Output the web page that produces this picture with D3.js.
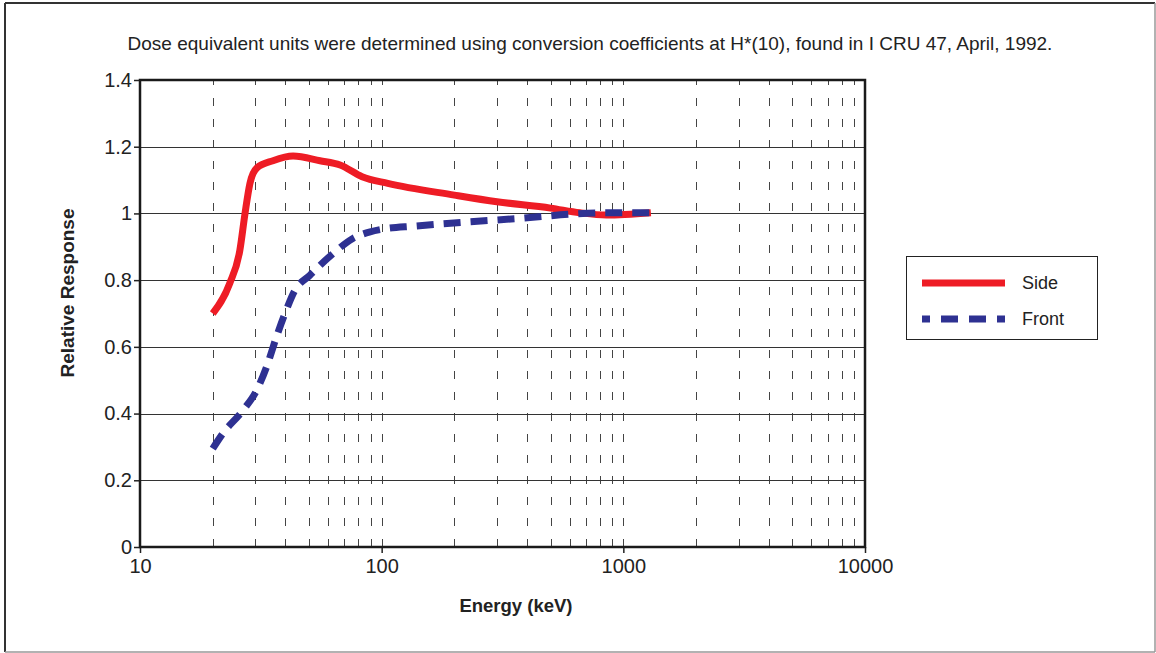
<!DOCTYPE html>
<html>
<head>
<meta charset="utf-8">
<script src="https://cdn.jsdelivr.net/npm/d3@7"></script>
<style>
  html, body { margin: 0; padding: 0; background: #fff; }
  svg { display: block; font-family: "Liberation Sans", Arial, sans-serif; }
</style>
</head>
<body>
<div id="chart"></div>
<script>
// Dados
const sideEnergy   = [20, 23.5, 25.9, 27.2, 28.5, 30.4, 35.5, 43, 55.6, 67.3, 83, 106, 200, 300, 500, 660, 850, 1300];
const sideResponse = [0.70, 0.79, 0.89, 1.00, 1.09, 1.136, 1.158, 1.172, 1.158, 1.145, 1.11, 1.09, 1.055, 1.035, 1.016, 1.002, 0.995, 1.002];

const frontEnergy   = [20, 22, 26.7, 30.4, 33.4, 36.7, 39.8, 43.8, 50.5, 63, 76, 89.6, 101, 137, 232, 373, 617, 881, 1300];
const frontResponse = [0.295, 0.34, 0.41, 0.47, 0.54, 0.63, 0.70, 0.77, 0.815, 0.88, 0.925, 0.945, 0.953, 0.962, 0.975, 0.985, 0.998, 1.002, 1.002];

const xTickValues = [10, 100, 1000, 10000];
const yTickValues = [0, 0.2, 0.4, 0.6, 0.8, 1, 1.2, 1.4];
const seriesNames = ['Side', 'Front'];
const titleText = 'Dose equivalent units were determined using conversion coefficients at H*(10), found in I CRU 47, April, 1992.';

// Dimensões
const W = 1156, H = 653;
const margin = { left: 140, top: 80, right: 291, bottom: 106 };
const width = W - margin.left - margin.right;
const height = H - margin.top - margin.bottom;

const svg = d3.select('#chart').append('svg')
  .attr('width', W)
  .attr('height', H);

// Moldura exterior
svg.append('line').attr('x1', 5).attr('y1', 3).attr('x2', 5).attr('y2', 652)
  .attr('stroke', '#333').attr('stroke-width', 2);
svg.append('line').attr('x1', 5).attr('y1', 3).attr('x2', 1155).attr('y2', 3)
  .attr('stroke', '#333').attr('stroke-width', 2);
svg.append('line').attr('x1', 1155).attr('y1', 3).attr('x2', 1155).attr('y2', 652)
  .attr('stroke', '#999').attr('stroke-width', 1.5);
svg.append('line').attr('x1', 5).attr('y1', 652).attr('x2', 1155).attr('y2', 652)
  .attr('stroke', '#999').attr('stroke-width', 1.5);

// Título
svg.append('text')
  .attr('x', 590).attr('y', 50)
  .attr('text-anchor', 'middle')
  .attr('font-size', '19px')
  .attr('fill', '#222')
  .text(titleText);

const chart = svg.append('g')
  .attr('transform', `translate(${margin.left},${margin.top})`);

// Escalas
const x = d3.scaleLog().domain([10, 10000]).range([0, width]);
const y = d3.scaleLinear().domain([0, 1.4]).range([height, 0]);

// Linhas verticais tracejadas (2..9 de cada década, e 100, 1000)
const minorVals = [];
[10, 100, 1000].forEach(dec => {
  for (let k = 2; k <= 10; k++) {
    const v = dec * k;
    if (v < 10000) minorVals.push(v);
  }
});
chart.append('g').selectAll('line').data(minorVals).join('line')
  .attr('x1', d => Math.round(x(d)) + 0.5)
  .attr('x2', d => Math.round(x(d)) + 0.5)
  .attr('y1', height).attr('y2', 0)
  .attr('stroke', '#444')
  .attr('stroke-width', 1)
  .attr('stroke-dasharray', '8,13');

// Grelha horizontal
chart.append('g').selectAll('line').data(yTickValues.filter(d => d > 0 && d < 1.4)).join('line')
  .attr('x1', 0).attr('x2', width)
  .attr('y1', d => Math.round(y(d)) + 0.5)
  .attr('y2', d => Math.round(y(d)) + 0.5)
  .attr('stroke', '#333')
  .attr('stroke-width', 1);

// Eixos
const xAxis = d3.axisBottom(x).tickValues(xTickValues).tickFormat(d3.format('d')).tickSize(6).tickPadding(6);
const yAxis = d3.axisLeft(y).tickValues(yTickValues).tickFormat(d => String(+d.toFixed(1))).tickSize(6).tickPadding(2);

const xAxisG = chart.append('g')
  .attr('transform', `translate(0,${height})`)
  .call(xAxis);
const yAxisG = chart.append('g').call(yAxis);

[xAxisG, yAxisG].forEach(g => {
  g.select('.domain').remove();
  g.selectAll('.tick line').attr('stroke', '#222').attr('stroke-width', 1.5);
  g.selectAll('.tick text')
    .attr('font-family', '"Liberation Sans", Arial, sans-serif')
    .attr('font-size', '20px')
    .attr('fill', '#222');
});

// Moldura da área do gráfico
chart.append('rect')
  .attr('x', 0).attr('y', 0)
  .attr('width', width).attr('height', height)
  .attr('fill', 'none')
  .attr('stroke', '#1a1a1a')
  .attr('stroke-width', 2.5);

// Títulos dos eixos
svg.append('text')
  .attr('x', 516).attr('y', 612)
  .attr('text-anchor', 'middle')
  .attr('font-size', '18.5px')
  .attr('font-weight', 'bold')
  .attr('fill', '#222')
  .text('Energy (keV)');

svg.append('text')
  .attr('transform', 'translate(74,293) rotate(-90)')
  .attr('text-anchor', 'middle')
  .attr('font-size', '19px')
  .attr('font-weight', 'bold')
  .attr('fill', '#222')
  .text('Relative Response');

// Séries
const line = d3.line()
  .x(d => x(d[0]))
  .y(d => y(d[1]))
  .curve(d3.curveMonotoneX);

const sideData = sideEnergy.map((e, i) => [e, sideResponse[i]]);
const frontData = frontEnergy.map((e, i) => [e, frontResponse[i]]);

chart.append('path')
  .attr('d', line(sideData))
  .attr('fill', 'none')
  .attr('stroke', '#ee1c25')
  .attr('stroke-width', 7)
  .attr('stroke-linejoin', 'round');

chart.append('path')
  .attr('d', line(frontData))
  .attr('fill', 'none')
  .attr('stroke', '#2e3192')
  .attr('stroke-width', 7)
  .attr('stroke-dasharray', '17,10');

// Legenda
const legend = svg.append('g').attr('transform', 'translate(906,256)');
legend.append('rect')
  .attr('x', 0.5).attr('y', 0.5)
  .attr('width', 191).attr('height', 83)
  .attr('fill', '#fff')
  .attr('stroke', '#222')
  .attr('stroke-width', 1);

const legendStyles = [
  { color: '#ee1c25', dash: null },
  { color: '#2e3192', dash: '8,11,17,11,17,11,8' }
];
seriesNames.forEach((name, i) => {
  const ly = 27 + i * 36;
  legend.append('line')
    .attr('x1', 16).attr('x2', 99)
    .attr('y1', ly).attr('y2', ly)
    .attr('stroke', legendStyles[i].color)
    .attr('stroke-width', 7)
    .attr('stroke-dasharray', legendStyles[i].dash);
  legend.append('text')
    .attr('x', 116).attr('y', ly + 6)
    .attr('font-size', '18px')
    .attr('fill', '#222')
    .text(name);
});
</script>
</body>
</html>
